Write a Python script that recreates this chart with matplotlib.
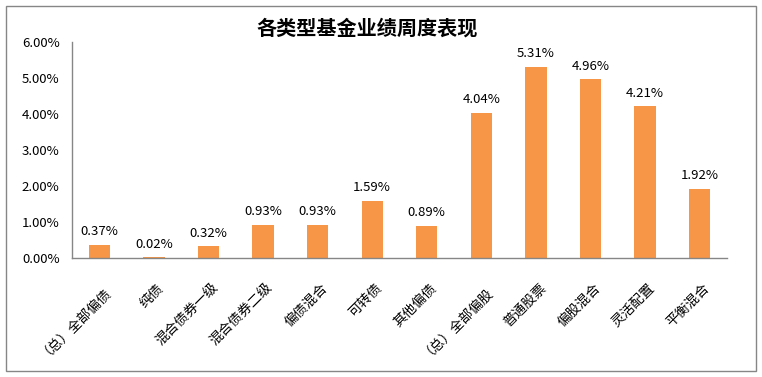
import matplotlib
matplotlib.use("Agg")
import matplotlib.pyplot as plt
from matplotlib.patches import Rectangle
from matplotlib.ticker import FuncFormatter, MultipleLocator
import matplotlib.transforms as mtransforms

plt.rcParams['font.family'] = ['Noto Sans CJK SC', 'DejaVu Sans']

categories = ["（总）全部偏债", "纯债", "混合债券一级", "混合债券二级", "偏债混合", "可转债",
              "其他偏债", "（总）全部偏股", "普通股票", "偏股混合", "灵活配置", "平衡混合"]
values = [0.37, 0.02, 0.32, 0.93, 0.93, 1.59, 0.89, 4.04, 5.31, 4.96, 4.21, 1.92]
title = "各类型基金业绩周度表现"

fig = plt.figure(figsize=(7.62, 3.77), dpi=100)
ax = fig.add_axes([0.0945, 0.3157, 0.954 - 0.0945, 0.8886 - 0.3157])

x = list(range(len(categories)))
ax.bar(x, values, width=0.39, color="#F79646")
for xi, v in zip(x, values):
    ax.text(xi, v + 0.18, f"{v:.2f}%", ha="center", va="bottom", fontsize=9.5, color="black")

ax.set_xlim(-0.5, len(categories) - 0.5)
ax.set_ylim(0, 6)
ax.yaxis.set_major_locator(MultipleLocator(1))
ax.yaxis.set_major_formatter(FuncFormatter(lambda v, p: f"{v:.2f}%"))
ax.tick_params(axis="y", length=0, labelsize=9.5, pad=9)
ax.tick_params(axis="x", length=0)
ax.set_xticks(x)
ax.set_xticklabels(categories, rotation=45, ha="right", va="top", rotation_mode="anchor", fontsize=9.8)
for lbl in ax.get_xticklabels():
    lbl.set_transform(lbl.get_transform() + mtransforms.ScaledTranslation(2/72, -13/72, fig.dpi_scale_trans))

for s in ["top", "right"]:
    ax.spines[s].set_visible(False)
for s in ["left", "bottom"]:
    ax.spines[s].set_color("#868686")
    ax.spines[s].set_linewidth(1)

fig.text(0.482, 0.926, title, ha="center", va="center", fontsize=14.5, fontweight="bold")

fig.patches.append(Rectangle((6/762, 6/377), 750/762, 365/377, transform=fig.transFigure,
                             fill=False, edgecolor="#868686", linewidth=1))

fig.savefig("out.png", dpi=100)
